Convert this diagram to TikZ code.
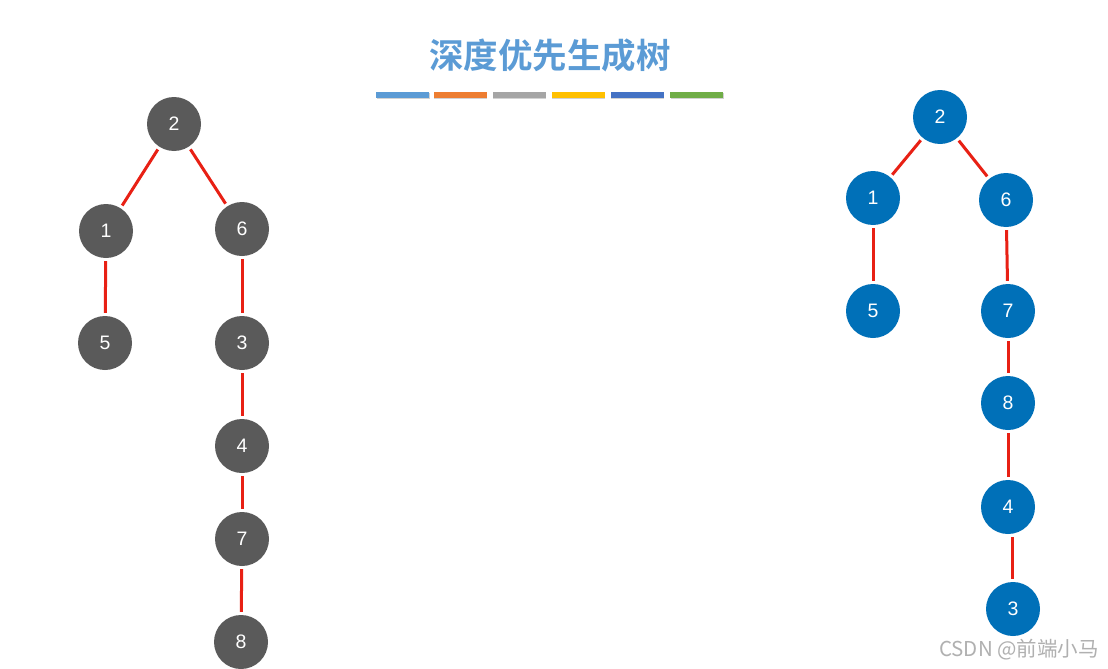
\documentclass[tikz,border=0pt]{standalone}
\usepackage{fontspec}
\usetikzlibrary{shadows}
\setmainfont{Liberation Sans}
\newfontfamily\cjk{Noto Sans CJK SC}
\newfontfamily\cjkbold{Noto Sans CJK SC Bold}
\definecolor{graynode}{HTML}{5A5A5A}
\definecolor{bluenode}{HTML}{0070B8}
\definecolor{edgered}{RGB}{232,32,20}
\definecolor{titleblue}{HTML}{5B9BD5}
\definecolor{barA}{HTML}{5B9BD5}
\definecolor{barB}{HTML}{ED7D31}
\definecolor{barC}{HTML}{A5A5A5}
\definecolor{barD}{HTML}{FFC000}
\definecolor{barE}{HTML}{4472C4}
\definecolor{barF}{HTML}{70AD47}
\definecolor{wm}{HTML}{B0B0B0}
\begin{document}
\begin{tikzpicture}[x=1pt,y=-1pt,
  gnode/.style={circle,fill=graynode,minimum size=54pt,inner sep=0pt,text=white,font=\fontsize{19.5}{19.5}\selectfont},
  bnode/.style={circle,fill=bluenode,minimum size=54pt,inner sep=0pt,text=white,font=\fontsize{19.5}{19.5}\selectfont},
  tedge/.style={draw=edgered,line width=3pt,shorten >=3pt,shorten <=3pt},
  bar/.style={minimum width=53pt,minimum height=6pt,inner sep=0pt,drop shadow={shadow xshift=0.6pt,shadow yshift=-1.5pt,opacity=0.35}}]
\useasboundingbox[fill=white] (0,0) rectangle (1108,669);
% title
\node[text=titleblue,font=\cjkbold\fontsize{34.5}{34.5}\selectfont] (title) at (550,55) {深度优先生成树};
% bars
\foreach \c/\x [count=\i] in {barA/402.5,barB/460,barC/519,barD/578,barE/637,barF/696.5}
  \node[bar,fill=\c] (bar\i) at (\x,94.5) {};
% left tree
\node[gnode] (l2) at (174,124) {2};
\node[gnode] (l1) at (106,231) {1};
\node[gnode] (l6) at (242,229) {6};
\node[gnode] (l5) at (105,343) {5};
\node[gnode] (l3) at (242,343) {3};
\node[gnode] (l4) at (242,446) {4};
\node[gnode] (l7) at (242,539) {7};
\node[gnode] (l8) at (241,642) {8};
\draw[tedge] (l2) -- (l1);
\draw[tedge] (l2) -- (l6);
\draw[tedge] (l1) -- (l5);
\draw[tedge] (l6) -- (l3);
\draw[tedge] (l3) -- (l4);
\draw[tedge] (l4) -- (l7);
\draw[tedge] (l7) -- (l8);
% right tree
\node[bnode] (r2) at (940,117) {2};
\node[bnode] (r1) at (873,198) {1};
\node[bnode] (r6) at (1006,200) {6};
\node[bnode] (r5) at (873,311) {5};
\node[bnode] (r7) at (1008,311) {7};
\node[bnode] (r8) at (1008,403) {8};
\node[bnode] (r4) at (1008,507) {4};
\node[bnode] (r3) at (1013,609) {3};
\draw[tedge] (r2) -- (r1);
\draw[tedge] (r2) -- (r6);
\draw[tedge] (r1) -- (r5);
\draw[tedge] (r6) -- (r7);
\draw[tedge] (r7) -- (r8);
\draw[tedge] (r8) -- (r4);
\draw[tedge] ([xshift=4pt]r4.south) -- ([xshift=-1pt]r3.north);
% watermark
\node[text=wm,font=\cjk\fontsize{20.5}{20.5}\selectfont] (wmark) at (1019,650) {CSDN @前端小马};
\end{tikzpicture}
\end{document}
